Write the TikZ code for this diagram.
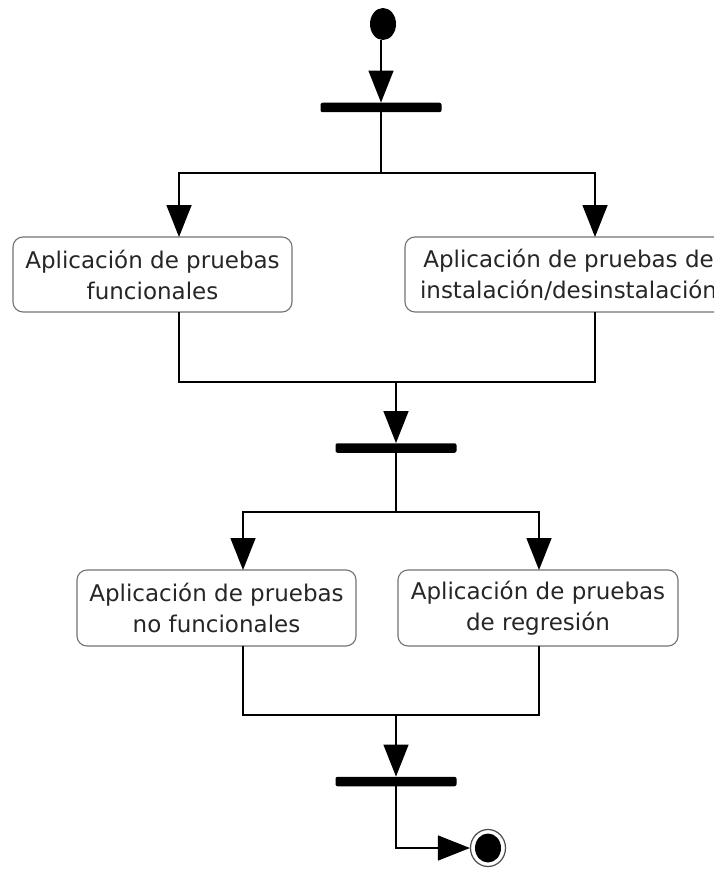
\documentclass[tikz,border=0pt]{standalone}
\usepackage{fontspec}
\setmainfont{DejaVu Sans}
\usetikzlibrary{arrows.meta,shapes.geometric}
\begin{document}
\begin{tikzpicture}[x=1pt,y=-1pt,
  conn/.style={line width=1.5pt,black},
  arr/.style={conn,-{Triangle[length=32pt,width=25pt]}},
  actbox/.style={draw=black!55,line width=1.1pt,rounded corners=10pt,fill=white,
    align=center,inner sep=0pt,text=black!85,
    font=\fontsize{23}{31}\selectfont},
  barnode/.style={fill=black,rounded corners=2pt,inner sep=0pt,minimum width=121pt,minimum height=9.5pt},
]
\path[use as bounding box,clip] (0,0) rectangle (714,872);
\fill[white] (0,0) rectangle (714,872);

% start / end
\node[ellipse,fill=black,inner sep=0pt,minimum width=26pt,minimum height=32pt] (start) at (383,24) {};
\node[ellipse,draw=black!70,line width=1.2pt,inner sep=0pt,minimum width=35pt,minimum height=37pt] (endo) at (488,848) {};
\node[ellipse,fill=black,inner sep=0pt,minimum width=26pt,minimum height=29pt] (endi) at (488,848) {};

% bars
\node[barnode] (bar1) at (381,107.5) {};
\node[barnode] (bar2) at (396,448) {};
\node[barnode] (bar3) at (396,781.5) {};

% activities
\node[actbox,minimum width=279pt,minimum height=75pt] (b1) at (152.5,274.5) {Aplicación de pruebas\\funcionales};
\node[actbox,minimum width=327pt,minimum height=75pt] (b2) at (568.5,274.5) {Aplicación de pruebas de\\instalación/desinstalación};
\node[actbox,minimum width=279pt,minimum height=76pt] (b3) at (216.5,608) {Aplicación de pruebas\\no funcionales};
\node[actbox,minimum width=280pt,minimum height=76pt] (b4) at (538,608) {Aplicación de pruebas\\de regresión};

% coordinates
\coordinate (j1) at (381,173);
\coordinate (e1) at (179,237);
\coordinate (e2) at (595,237);
\coordinate (o1) at (179,312);
\coordinate (o2) at (595,312);
\coordinate (j2) at (396,382);
\coordinate (j3) at (396,512);
\coordinate (e3) at (243,570);
\coordinate (e4) at (539,570);
\coordinate (o3) at (243,646);
\coordinate (o4) at (539,646);
\coordinate (j4) at (396,715);
\coordinate (k) at (396,848);

% connectors
\draw[arr] (start.south -| bar1) -- (bar1.north);
\draw[conn] (bar1.south) -- (j1);
\draw[arr] (j1) -| (e1);
\draw[arr] (j1) -| (e2);
\draw[conn] (o1) |- (j2) -| (o2);
\draw[arr] (j2) -- (bar2.north);
\draw[conn] (bar2.south) -- (j3);
\draw[arr] (j3) -| (e3);
\draw[arr] (j3) -| (e4);
\draw[conn] (o3) |- (j4) -| (o4);
\draw[arr] (j4) -- (bar3.north);
\draw[arr] (bar3.south) -- (k) -- (endo.west);
\end{tikzpicture}
\end{document}
